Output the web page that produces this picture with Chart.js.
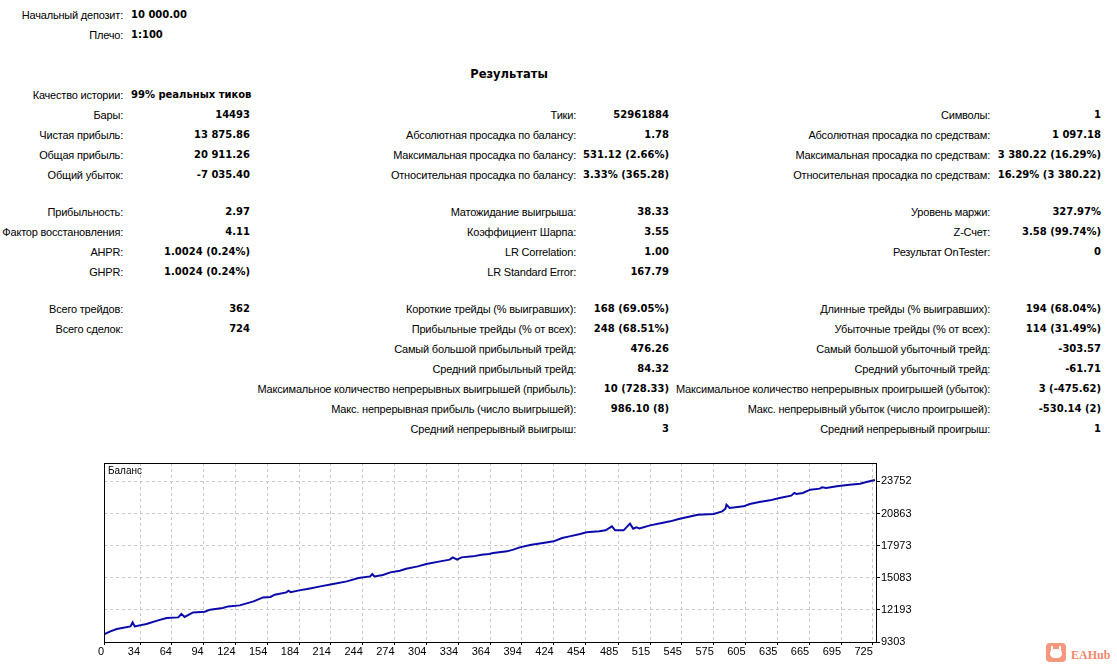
<!DOCTYPE html>
<html lang="ru">
<head>
<meta charset="utf-8">
<title>Результаты</title>
<script src="https://cdn.jsdelivr.net/npm/chart.js@4.4.0/dist/chart.umd.min.js"></script>
<style>
    body {
        margin: 0;
        width: 1117px;
        height: 668px;
        overflow: hidden;
        position: relative;
        background: #fff;
        color: #000;
        font-family: "Liberation Sans", Arial, sans-serif;
        font-size: 11px;
    }
    .l, .v {
        position: absolute;
        height: 20px;
        line-height: 20px;
        white-space: nowrap;
    }
    .l { text-align: right; letter-spacing: -0.2px; }
    .v {
        font-family: "DejaVu Sans", sans-serif;
        font-weight: bold;
        font-size: 10px;
    }
    .head {
        position: absolute;
        left: 409px;
        width: 200px;
        top: 64px;
        line-height: 20px;
        text-align: center;
        font-family: "DejaVu Sans", sans-serif;
        font-weight: bold;
        font-size: 11.5px;
    }
    #chart-box {
        position: absolute;
        left: 90px;
        top: 455px;
        width: 830px;
        height: 213px;
    }
    .chart-title {
        position: absolute;
        left: 108px;
        top: 465px;
        font-size: 10px;
        line-height: 12px;
    }
    .logo {
        position: absolute;
        left: 1046px;
        top: 643px;
        width: 20px;
        height: 19px;
        border-radius: 4px;
        background: #f7977d;
    }
    .logo i {
        position: absolute;
        left: 4px;
        top: 6px;
        width: 12px;
        height: 9px;
        border-radius: 5px;
        background: #fff;
    }
    .logo b {
        position: absolute;
        top: 3px;
        width: 2px;
        height: 4px;
        background: #fff;
    }
    .brand {
        position: absolute;
        left: 1071px;
        top: 646px;
        line-height: 18px;
        font-family: "Liberation Serif", serif;
        font-weight: bold;
        font-size: 12px;
        color: #f2876b;
    }
</style>
</head>
<body>
<div id="report"></div>
<div class="head">Результаты</div>
<div id="chart-box"><canvas id="balance" width="830" height="213"></canvas></div>
<div class="chart-title">Баланс</div>
<div class="logo"><b style="left:5px"></b><b style="left:13px"></b><i></i></div>
<div class="brand">EAHub</div>
<script>
// номер сделки и баланс после неё
const deals = [0, 6, 12, 25, 27, 29, 40, 51, 59, 70, 73, 76, 84, 95, 100, 112, 117, 128, 141, 150,
    157, 161, 172, 174, 176, 184, 193, 204, 216, 229, 240, 251, 253, 255, 263, 270, 279, 285, 296, 304,
    317, 326, 329, 333, 337, 348, 356, 363, 367, 380, 386, 392, 403, 414, 424, 432, 439, 449, 455, 467,
    473, 479, 482, 490, 496, 499, 502, 505, 515, 526, 534, 542, 560, 575, 583, 586, 587, 590, 603, 609,
    618, 628, 637, 648, 651, 653, 659, 666, 675, 677, 681, 691, 703, 713, 719, 727];
const balance = [10000, 10257, 10473, 10707, 11067, 10707, 10923, 11247, 11463, 11517, 11822, 11553, 11967, 12030, 12210, 12363, 12507, 12597, 12957, 13317,
    13353, 13560, 13767, 13920, 13790, 13947, 14100, 14307, 14523, 14757, 15063, 15207, 15423, 15207, 15333, 15567, 15720, 15900, 16107, 16323,
    16557, 16710, 16917, 16710, 16917, 17007, 17160, 17223, 17313, 17457, 17610, 17817, 18060, 18213, 18357, 18663, 18807, 19023, 19167, 19257,
    19347, 19707, 19347, 19347, 19950, 19500, 19617, 19527, 19797, 20013, 20157, 20373, 20760, 20823, 21057, 21300, 21660, 21363, 21507, 21723,
    21903, 22047, 22263, 22470, 22713, 22623, 22713, 23010, 23100, 23217, 23163, 23307, 23460, 23550, 23703, 23876];

const xTicks = [0, 34, 64, 94, 124, 154, 184, 214, 244, 274, 304, 334, 364, 394, 424, 454, 485, 515, 545, 575, 605, 635, 665, 695, 725];
const yTicks = [9303, 12193, 15083, 17973, 20863, 23752];
const xMax = 728;
const yMin = 9303;
const yMax = 25407;

// строки отчёта: y центра, колонка, подпись, значение, выравнивание значения
const rows = [
    [15, 0, 'Начальный депозит:', '10 000.00', 'left'],
    [35, 0, 'Плечо:', '1:100', 'left'],
    [95, 0, 'Качество истории:', '99% реальных тиков', 'left'],
    [115, 0, 'Бары:', '14493'],
    [115, 1, 'Тики:', '52961884'],
    [115, 2, 'Символы:', '1'],
    [135, 0, 'Чистая прибыль:', '13 875.86'],
    [135, 1, 'Абсолютная просадка по балансу:', '1.78'],
    [135, 2, 'Абсолютная просадка по средствам:', '1 097.18'],
    [155, 0, 'Общая прибыль:', '20 911.26'],
    [155, 1, 'Максимальная просадка по балансу:', '531.12 (2.66%)'],
    [155, 2, 'Максимальная просадка по средствам:', '3 380.22 (16.29%)'],
    [175, 0, 'Общий убыток:', '-7 035.40'],
    [175, 1, 'Относительная просадка по балансу:', '3.33% (365.28)'],
    [175, 2, 'Относительная просадка по средствам:', '16.29% (3 380.22)'],
    [212, 0, 'Прибыльность:', '2.97'],
    [212, 1, 'Матожидание выигрыша:', '38.33'],
    [212, 2, 'Уровень маржи:', '327.97%'],
    [232, 0, 'Фактор восстановления:', '4.11'],
    [232, 1, 'Коэффициент Шарпа:', '3.55'],
    [232, 2, 'Z-Счет:', '3.58 (99.74%)'],
    [252, 0, 'AHPR:', '1.0024 (0.24%)'],
    [252, 1, 'LR Correlation:', '1.00'],
    [252, 2, 'Результат OnTester:', '0'],
    [272, 0, 'GHPR:', '1.0024 (0.24%)'],
    [272, 1, 'LR Standard Error:', '167.79'],
    [309, 0, 'Всего трейдов:', '362'],
    [309, 1, 'Короткие трейды (% выигравших):', '168 (69.05%)'],
    [309, 2, 'Длинные трейды (% выигравших):', '194 (68.04%)'],
    [329, 0, 'Всего сделок:', '724'],
    [329, 1, 'Прибыльные трейды (% от всех):', '248 (68.51%)'],
    [329, 2, 'Убыточные трейды (% от всех):', '114 (31.49%)'],
    [349, 1, 'Самый большой прибыльный трейд:', '476.26'],
    [349, 2, 'Самый большой убыточный трейд:', '-303.57'],
    [369, 1, 'Средний прибыльный трейд:', '84.32'],
    [369, 2, 'Средний убыточный трейд:', '-61.71'],
    [389, 1, 'Максимальное количество непрерывных выигрышей (прибыль):', '10 (728.33)'],
    [389, 2, 'Максимальное количество непрерывных проигрышей (убыток):', '3 (-475.62)'],
    [409, 1, 'Макс. непрерывная прибыль (число выигрышей):', '986.10 (8)'],
    [409, 2, 'Макс. непрерывный убыток (число проигрышей):', '-530.14 (2)'],
    [429, 1, 'Средний непрерывный выигрыш:', '3'],
    [429, 2, 'Средний непрерывный проигрыш:', '1']
];
const cols = [[123, 250], [576, 669], [990, 1101]];

let html = '';
rows.forEach(([y, c, label, value, mode]) => {
    const [lr, vr] = cols[c];
    const top = y - 10;
    html += `<div class="l" style="top:${top}px;right:${1117 - lr}px">${label}</div>`;
    if (mode === 'left') {
        html += `<div class="v" style="top:${top}px;left:${lr + 8}px">${value}</div>`;
    } else {
        html += `<div class="v" style="top:${top}px;right:${1117 - vr}px">${value}</div>`;
    }
});
document.getElementById('report').innerHTML = html;

Chart.defaults.font.family = '"Liberation Sans", Arial, sans-serif';
Chart.defaults.font.size = 11;
Chart.defaults.color = '#000';

const frame = {
    id: 'frame',
    afterDraw(chart) {
        const {ctx, chartArea: a} = chart;
        ctx.save();
        ctx.strokeStyle = '#000';
        ctx.lineWidth = 1;
        ctx.strokeRect(Math.round(a.left) + 0.5, Math.round(a.top) + 0.5,
            Math.round(a.right - a.left), Math.round(a.bottom - a.top));
        ctx.restore();
    }
};

const border = {color: '#000', dash: [3, 3]};

new Chart(document.getElementById('balance').getContext('2d'), {
    type: 'line',
    data: {
        datasets: [{
            label: 'Баланс',
            data: deals.map((d, i) => ({x: d, y: balance[i]})),
            borderColor: '#0a0aab',
            borderWidth: 2,
            pointRadius: 0,
            tension: 0,
            fill: false
        }]
    },
    options: {
        responsive: false,
        animation: false,
        layout: {padding: {left: 14, top: 8, right: 0, bottom: 0}},
        plugins: {legend: {display: false}, tooltip: {enabled: false}},
        scales: {
            x: {
                type: 'linear',
                min: 0,
                max: xMax,
                afterBuildTicks: s => { s.ticks = xTicks.map(v => ({value: v})); },
                afterFit: s => { s.height = 26; },
                ticks: {autoSkip: false, maxRotation: 0, align: 'end', padding: 0, callback: v => String(v)},
                grid: {color: '#c8c8c8', tickColor: '#000', tickLength: 3, tickBorderDash: []},
                border: border
            },
            y: {
                position: 'right',
                min: yMin,
                max: yMax,
                afterBuildTicks: s => { s.ticks = yTicks.map(v => ({value: v})); },
                afterFit: s => { s.width = 44; },
                ticks: {padding: 1, callback: v => String(v)},
                grid: {color: '#c8c8c8', tickColor: '#000', tickLength: 4, tickBorderDash: []},
                border: border
            }
        }
    },
    plugins: [frame]
});
</script>
</body>
</html>
